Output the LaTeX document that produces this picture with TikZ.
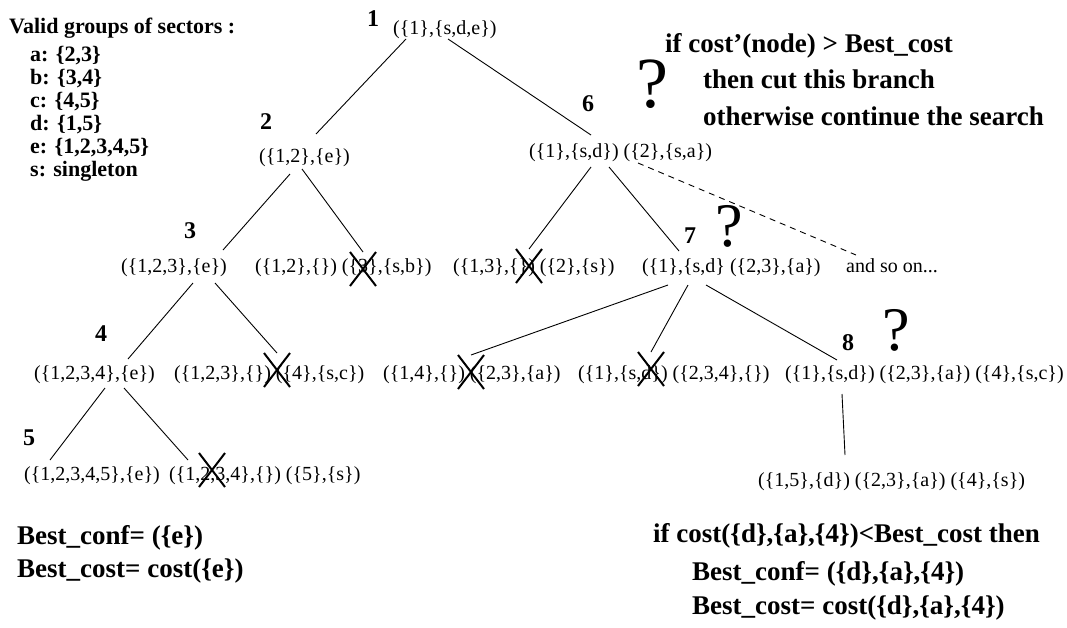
\documentclass[tikz,border=0pt]{standalone}
\usepackage{fontspec}
\setmainfont{Liberation Serif}
\usetikzlibrary{shapes.misc}

\begin{document}
\begin{tikzpicture}[x=1pt, y=-1pt,
        state/.style={anchor=base west, inner sep=0pt, font=\fontsize{20}{24}\selectfont},
        num/.style={anchor=base west, inner sep=0pt, font=\fontsize{24}{28}\selectfont\bfseries},
        legend/.style={anchor=base west, inner sep=0pt, font=\fontsize{22}{23}\selectfont\bfseries},
        note/.style={anchor=base west, inner sep=0pt, font=\fontsize{27}{32}\selectfont\bfseries},
        ask/.style={anchor=base west, inner sep=0pt, font=\fontsize{#1}{#1}\selectfont},
        cutmark/.style={draw, cross out, line width=2pt, minimum width=26pt, minimum height=34pt, inner sep=0pt, outer sep=0pt},
        branch/.style={line width=0.9pt}]
        \useasboundingbox (0,0) rectangle (1067,627);

        % valid groups
        \node[legend] (title) at (9,33) {Valid groups of sectors :};
        \foreach \grp [count=\k] in {{a: \{2,3\}}, {b: \{3,4\}}, {c: \{4,5\}}, {d: \{1,5\}}, {e: \{1,2,3,4,5\}}, {s: singleton}}
            \node[legend] (g\k) at (30,38+23*\k) {\grp};

        % tree
        \node[state] (1) at (393,34) {(\{1\},\{s,d,e\})};
        \node[state] (2) at (259,162) {(\{1,2\},\{e\})};
        \node[state] (6) at (529,157) {(\{1\},\{s,d\}) (\{2\},\{s,a\})};
        \node[state] (3) at (121,272) {(\{1,2,3\},\{e\})};
        \node[state] (2b) at (255,272) {(\{1,2\},\{\}) (\{3\},\{s,b\})};
        \node[state] (6b) at (453,272) {(\{1,3\},\{\}) (\{2\},\{s\})};
        \node[state] (7) at (642,272) {(\{1\},\{s,d\} (\{2,3\},\{a\})};
        \node[state] (more) at (846,272) {and so on...};
        \node[state] (4) at (34,379) {(\{1,2,3,4\},\{e\})};
        \node[state] (3b) at (174,379) {(\{1,2,3\},\{\}) (\{4\},\{s,c\})};
        \node[state] (7b) at (383,379) {(\{1,4\},\{\}) (\{2,3\},\{a\})};
        \node[state] (7c) at (578,379) {(\{1\},\{s,d\}) (\{2,3,4\},\{\})};
        \node[state] (8) at (785,379) {(\{1\},\{s,d\}) (\{2,3\},\{a\}) (\{4\},\{s,c\})};
        \node[state] (5) at (24,480) {(\{1,2,3,4,5\},\{e\})};
        \node[state] (4b) at (169,480) {(\{1,2,3,4\},\{\}) (\{5\},\{s\})};
        \node[state] (8b) at (758,486) {(\{1,5\},\{d\}) (\{2,3\},\{a\}) (\{4\},\{s\})};

        \node[num] (n1) at (367,26) {1};
        \node[num] (n2) at (260,129) {2};
        \node[num] (n3) at (184,238) {3};
        \node[num] (n4) at (95,341) {4};
        \node[num] (n5) at (23,445) {5};
        \node[num] (n6) at (582,111) {6};
        \node[num] (n7) at (684,243) {7};
        \node[num] (n8) at (842,350) {8};

        \node[ask=72] (q6) at (636,107) {?};
        \node[ask=62] (q7) at (715,246) {?};
        \node[ask=62] (q8) at (882,350) {?};

        % pruned
        \node[cutmark] (x2b) at (363,269) {};
        \node[cutmark] (x3b) at (277,370) {};
        \node[cutmark] (x4b) at (212,470) {};
        \node[cutmark] (x6b) at (529,266) {};
        \node[cutmark] (x7b) at (471,372) {};
        \node[cutmark] (x7c) at (651,369) {};

        \draw[branch] ([shift={(13,5)}]1.base west) -- ([shift={(57,-28)}]2.base west);
        \draw[branch] ([shift={(55,5)}]1.base west) -- ([shift={(62,-22)}]6.base west);
        \draw[branch] ([shift={(31,12)}]2.base west) -- ([shift={(102,-22)}]3.base west);
        \draw[branch] ([shift={(43,7)}]2.base west) -- (x2b.north);
        \draw[branch] ([shift={(72,11)}]3.base west) -- ([shift={(94,-20)}]4.base west);
        \draw[branch] ([shift={(94,11)}]3.base west) -- (x3b.north);
        \draw[branch] ([shift={(71,9)}]4.base west) -- ([shift={(26,-20)}]5.base west);
        \draw[branch] ([shift={(90,9)}]4.base west) -- ([shift={(19,-20)}]4b.base west);
        \draw[branch] ([shift={(62,10)}]6.base west) -- (x6b.north);
        \draw[branch] ([shift={(80,10)}]6.base west) -- ([shift={(37,-21)}]7.base west);
        \draw[branch, dash pattern=on 6pt off 5pt] ([shift={(109,6)}]6.base west) -- ([shift={(10,-17)}]more.base west);
        \draw[branch] ([shift={(26,13)}]7.base west) -- (x7b.north);
        \draw[branch] ([shift={(46,13)}]7.base west) -- (x7c.north);
        \draw[branch] ([shift={(64,13)}]7.base west) -- ([shift={(52,-19)}]8.base west);
        \draw[branch] ([shift={(57,15)}]8.base west) -- ([shift={(87,-31)}]8b.base west);

        % rule
        \node[note] (rule) at (665,52) {if cost’(node) > Best\_cost};
        \node[note] (then) at (703,88) {then cut this branch};
        \node[note] (else) at (703,125) {otherwise continue the search};

        % best so far
        \node[note] (bconf) at (17,544) {Best\_conf= (\{e\})};
        \node[note] (bcost) at (17,577) {Best\_cost= cost(\{e\})};
        \node[note] (test) at (653,542) {if cost(\{d\},\{a\},\{4\})<Best\_cost then};
        \node[note] (nconf) at (692,580) {Best\_conf= (\{d\},\{a\},\{4\})};
        \node[note] (ncost) at (692,614) {Best\_cost= cost(\{d\},\{a\},\{4\})};
\end{tikzpicture}
\end{document}
